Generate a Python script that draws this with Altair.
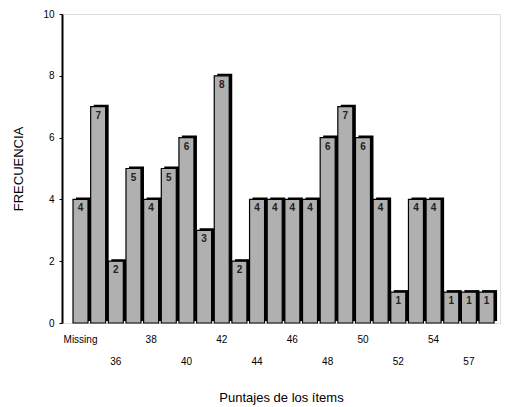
import altair as alt
import pandas as pd

categories = ["Missing", "35", "36", "37", "38", "39", "40", "41", "42", "43",
              "44", "45", "46", "47", "48", "49", "50", "51", "52", "53",
              "54", "55", "57", "58"]
counts = [4, 7, 2, 5, 4, 5, 6, 3, 8, 2, 4, 4, 4, 4, 6, 7, 6, 4, 1, 4, 4, 1, 1, 1]
top_row = ["Missing", "38", "42", "46", "50", "54"]
bottom_row = ["36", "40", "44", "48", "52", "57"]
y_ticks = [0, 2, 4, 6, 8, 10]

df = pd.DataFrame({"cat": categories, "n": counts})

font = "Liberation Sans"
top_js = "[" + ",".join("'%s'" % c for c in top_row) + "]"
bot_js = "[" + ",".join("'%s'" % c for c in bottom_row) + "]"
label_expr = (f"indexof({top_js}, datum.value) >= 0 ? datum.value : "
              f"(indexof({bot_js}, datum.value) >= 0 ? ['', datum.value] : '')")

x_enc = alt.X("cat:N", sort=categories,
              scale=alt.Scale(paddingInner=0.15, paddingOuter=0.48, align=0.65),
              axis=alt.Axis(title="Puntajes de los ítems", labelAngle=0,
                            labelExpr=label_expr, labelFont=font, labelFontSize=10,
                            labelColor="black", labelLineHeight=22,
                            labelPadding=11, ticks=False, domain=False,
                            titleFont=font, titleFontSize=13, titleFontWeight="normal",
                            titleColor="black", titleY=68, titleBaseline="top"))
y_enc = alt.Y("n:Q", scale=alt.Scale(domain=[0, 10]),
              axis=alt.Axis(title="FRECUENCIA", values=y_ticks, grid=False,
                            labelFont=font, labelFontSize=10, labelColor="black",
                            tickColor="black", tickSize=3, labelPadding=5,
                            domainColor="black",
                            domainWidth=2, titleFont=font, titleFontSize=13,
                            titleFontWeight="normal", titleColor="black",
                            titlePadding=17))

shadow = alt.Chart(df).mark_bar(color="black", xOffset=3, yOffset=-2).encode(
    x=x_enc, y=y_enc)
bars = alt.Chart(df).mark_bar(color="#b0b0b0", stroke="black", strokeWidth=1.2).encode(
    x=x_enc, y=y_enc)
labels = alt.Chart(df).mark_text(font=font, fontSize=10, fontWeight="bold",
                                 color="#222", baseline="top", dy=4).encode(
    x=x_enc, y=y_enc, text="n:Q")

chart = alt.layer(shadow, bars, labels).properties(
    width=438, height=309,
    padding={"left": 62, "top": 14, "right": 6, "bottom": 84},
    autosize=alt.AutoSizeParams(type="none"),
).configure_view(stroke="black", strokeWidth=1.5).configure(background="white")

chart.save("out.html", embed_options={"renderer": "svg", "actions": False})
